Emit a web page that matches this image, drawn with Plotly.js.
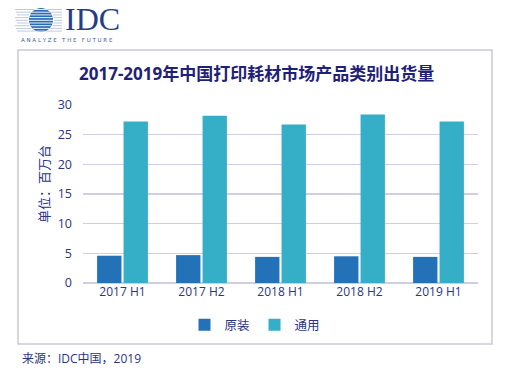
<!DOCTYPE html>
<html><head><meta charset="utf-8">
<script src="https://cdn.plot.ly/plotly-3.0.1.min.js"></script>
<style>html,body{margin:0;padding:0;background:#fff;}#c{width:506px;height:372px;}</style>
</head><body><div id="c"></div>
<script>
const categories = ["2017 H1","2017 H2","2018 H1","2018 H2","2019 H1"];
const yuanzhuang = [4.6, 4.7, 4.4, 4.5, 4.4];
const tongyong = [27.2, 28.2, 26.7, 28.4, 27.2];
const seriesNames = ["原装","通用"];
const titleText = "2017-2019年中国打印耗材市场产品类别出货量";
const yTitle = "单位：百万台";
const sourceText = "来源：IDC中国，2019";

const W=506,H=372,L=83,R=478,T=105,B=283;
const px=x=>(x-L)/(R-L), py=y=>(B-y)/(B-T);
const F="Open Sans, Noto Sans CJK SC, sans-serif";
const navy="#2b3480";

const shapes=[{type:'rect',xref:'paper',yref:'paper',x0:px(18),x1:px(492),y0:py(344),y1:py(50),line:{color:'#c9c9de',width:1.5},layer:'below'}];
// logo globe
const cx=41,cy=20,r=12;
shapes.push({type:'circle',xref:'paper',yref:'paper',x0:px(cx-r),x1:px(cx+r),y0:py(cy+r),y1:py(cy-r),fillcolor:'#2c6cb3',line:{width:0}});
for(let i=0;i<9;i++){
  const y=cy-r+1.5+i*2.7;
  const dy=y-cy; const half=Math.sqrt(Math.max(0,r*r-dy*dy));
  shapes.push({type:'line',xref:'paper',yref:'paper',x0:px(cx-half),x1:px(cx+half),y0:py(y),y1:py(y),line:{color:'#ffffff',width:0.9}});
  shapes.push({type:'line',xref:'paper',yref:'paper',x0:px(15+i%3),x1:px(cx-half-1),y0:py(y),y1:py(y),line:{color:'#b8c4d8',width:0.9}});
  shapes.push({type:'line',xref:'paper',yref:'paper',x0:px(cx+half+1),x1:px(62),y0:py(y),y1:py(y),line:{color:'#b8c4d8',width:0.9}});
}

const annotations=[
 {text:'IDC',xref:'paper',yref:'paper',x:px(63),y:py(19),xanchor:'left',yanchor:'middle',showarrow:false,font:{family:'Liberation Serif, serif',size:32,color:'#233c8c'}},
 {text:'A N A L Y Z E   T H E   F U T U R E',xref:'paper',yref:'paper',x:px(19),y:py(40),xanchor:'left',yanchor:'middle',showarrow:false,font:{family:'DejaVu Sans, sans-serif',size:5.5,color:'#4a5a9a'}},
 {text:'<b>'+titleText+'</b>',xref:'paper',yref:'paper',x:px(256),y:py(73),xanchor:'center',yanchor:'middle',showarrow:false,font:{family:F,size:17,color:'#1f2178'}},
 {text:yTitle,xref:'paper',yref:'paper',x:px(44),y:py(184),xanchor:'center',yanchor:'middle',textangle:-90,showarrow:false,font:{family:F,size:13,color:navy}},
 {text:sourceText,xref:'paper',yref:'paper',x:px(20),y:py(358),xanchor:'left',yanchor:'middle',showarrow:false,font:{family:F,size:12,color:navy}}
];

const data=[
 {type:'bar',name:seriesNames[0],x:categories,y:yuanzhuang,marker:{color:'#2372b8'},hoverinfo:'none'},
 {type:'bar',name:seriesNames[1],x:categories,y:tongyong,marker:{color:'#35aec7'},hoverinfo:'none'}
];
const layout={
 width:W,height:H,margin:{l:L,r:W-R,t:T,b:H-B,pad:0},
 paper_bgcolor:'#fff',plot_bgcolor:'#fff',
 barmode:'group',bargap:0.33,bargroupgap:0.08,
 font:{family:F,size:12,color:navy},
 xaxis:{type:'category',tickfont:{family:F,size:12,color:navy},showgrid:false,showline:false,ticks:'',ticklen:0},
 yaxis:{range:[0,30],dtick:5,tickfont:{family:F,size:12.5,color:navy},gridcolor:'#cfcfe3',gridwidth:1.2,zeroline:true,zerolinecolor:'#cfcfe3',zerolinewidth:1.2,ticks:'',ticklabelstandoff:10},
 showlegend:true,
 legend:{orientation:'h',x:px(255),xanchor:'center',y:py(325),yanchor:'middle',font:{family:F,size:12.5,color:navy},itemwidth:30,tracegroupgap:0,bgcolor:'rgba(0,0,0,0)'},
 shapes:shapes,annotations:annotations
};
Plotly.newPlot('c',data,layout,{displayModeBar:false,staticPlot:true});
</script></body></html>
